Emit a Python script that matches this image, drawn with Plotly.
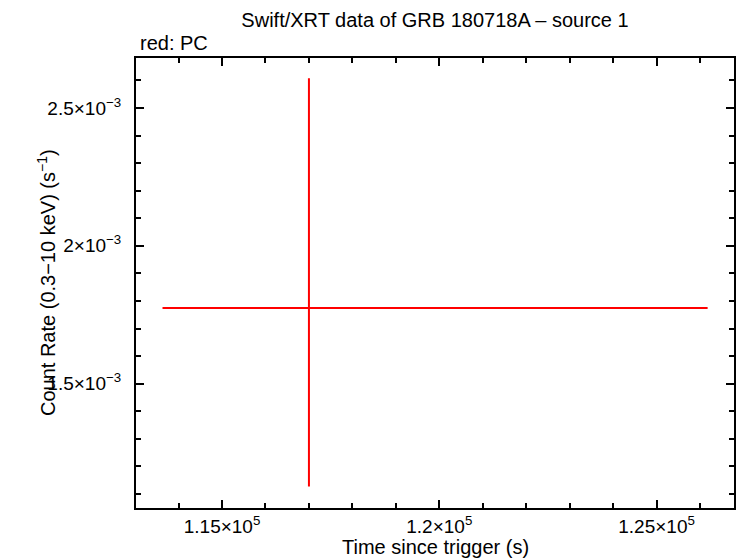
import plotly.graph_objects as go

# single PC-mode bin
time = [117000]
time_err_minus = [3370]
time_err_plus = [9175]
rate = [1.775e-3]
rate_err_minus = [0.648e-3]
rate_err_plus = [0.833e-3]

x_ticks = [115000, 120000, 125000]
x_labels = ["1.15×10<sup>5</sup>", "1.2×10<sup>5</sup>", "1.25×10<sup>5</sup>"]
y_ticks = [1.5e-3, 2e-3, 2.5e-3]
y_labels = ["1.5×10<sup>−3</sup>", "2×10<sup>−3</sup>", "2.5×10<sup>−3</sup>"]

fig = go.Figure()

fig.add_trace(go.Scatter(
    x=time, y=rate, mode="markers", name="PC",
    marker=dict(size=1, color="red", opacity=0),
    error_x=dict(type="data", symmetric=False, array=time_err_plus,
                 arrayminus=time_err_minus, color="red", thickness=2, width=0),
    error_y=dict(type="data", symmetric=False, array=rate_err_plus,
                 arrayminus=rate_err_minus, color="red", thickness=2, width=0),
))

axis_common = dict(
    showline=True, linecolor="black", linewidth=2, mirror="ticks",
    ticks="inside", ticklen=8, tickwidth=2, tickcolor="black",
    showgrid=False, zeroline=False,
    tickfont=dict(family="Liberation Sans", size=19, color="black"),
)

# page body adds an 8px margin, so the figure ends up 730 px wide
fig.update_layout(
    width=730, height=550,
    margin=dict(l=128, r=2, t=50, b=50),
    plot_bgcolor="white", paper_bgcolor="white",
    showlegend=False,
    font=dict(family="Liberation Sans", size=20, color="black"),
    title=dict(text="Swift/XRT data of GRB 180718A – source 1",
               x=0.5, xref="paper", xanchor="center", y=1 - 12 / 550,
               yanchor="middle", font=dict(size=20)),
    xaxis=dict(axis_common, range=[113020, 126782],
               tickvals=x_ticks, ticktext=x_labels,
               minor=dict(ticks="inside", ticklen=5, tickwidth=2, dtick=1000,
                          tick0=0, tickcolor="black")),
    yaxis=dict(axis_common, range=[1.0494e-3, 2.681e-3],
               tickvals=y_ticks, ticktext=y_labels, ticklabelstandoff=9,
               minor=dict(ticks="inside", ticklen=5, tickwidth=2, dtick=1e-4,
                          tick0=0, tickcolor="black")),
    annotations=[
        dict(text="red: PC", xref="paper", yref="paper",
             x=0, y=1, xanchor="left", yanchor="bottom", xshift=2, yshift=2,
             showarrow=False, font=dict(size=20)),
        dict(text="Time since trigger (s)", xref="paper", yref="paper",
             x=0.5, y=0, xanchor="center", yanchor="middle", yshift=-39,
             showarrow=False, font=dict(size=20)),
        dict(text="Count Rate (0.3−10 keV) (s<sup>−1</sup>)", xref="paper",
             yref="paper", x=0, y=0.5, xanchor="center", yanchor="middle",
             xshift=-90, textangle=-90, showarrow=False, font=dict(size=20)),
    ],
)

fig.write_html("out.html")
